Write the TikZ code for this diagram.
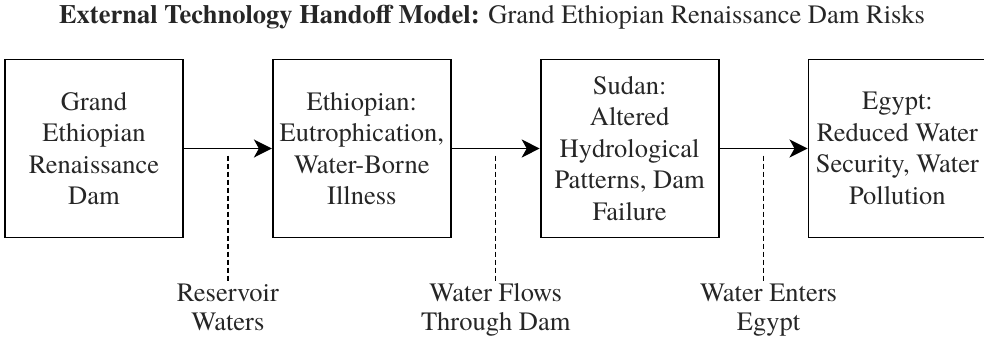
\documentclass[tikz,border=0pt]{standalone}
\usepackage{fontspec}
\setmainfont{texgyretermes}[Extension=.otf, UprightFont=*-regular, BoldFont=*-bold, ItalicFont=*-italic, BoldItalicFont=*-bolditalic]
\usetikzlibrary{arrows.meta, positioning}

\begin{document}
\begin{tikzpicture}[
  x=1pt, y=-1pt,
  node distance=88pt,
  box/.style={draw, line width=1.8pt, align=center, minimum width=178pt, minimum height=178pt, inner sep=2pt, text=black!85, font=\fontsize{26.5}{31.5}\selectfont},
  lbl/.style={align=center, inner sep=1pt, text=black!85, font=\fontsize{26.5}{29}\selectfont},
  flow/.style={-{Stealth[length=18pt, width=18pt, inset=5pt]}, line width=1.8pt},
  leader/.style={dash pattern=on 5pt off 3pt, line width=1.5pt}
]
\useasboundingbox (0,0) rectangle (984,337);

% title
\node[text=black!85, font=\fontsize{26.5}{31.5}\selectfont] (title) at (492,17) {\textbf{External Technology Handoff Model:} Grand Ethiopian Renaissance Dam Risks};

% stages
\node[box] (gerd) at (94,148.5) {Grand\\Ethiopian\\Renaissance\\Dam};
\node[box, right=of gerd] (ethiopia) {Ethiopian:\\Eutrophication,\\Water-Borne\\Illness};
\node[box, right=of ethiopia] (sudan) {Sudan:\\Altered\\Hydrological\\Patterns, Dam\\Failure};
\node[box, right=of sudan] (egypt) {Egypt:\\Reduced Water\\Security, Water\\Pollution};

\draw[flow] (gerd) -- (ethiopia);
\draw[flow] (ethiopia) -- (sudan);
\draw[flow] (sudan) -- (egypt);

% pathway labels
\path (gerd.east) -- (ethiopia.west) coordinate[pos=0.5, yshift=-7pt] (m1);
\path (ethiopia.east) -- (sudan.west) coordinate[pos=0.5, yshift=-7pt] (m2);
\path (sudan.east) -- (egypt.west) coordinate[pos=0.5, yshift=-7pt] (m3);

\node[lbl, below=127pt of m1] (reservoir) {Reservoir\\Waters};
\node[lbl, below=127pt of m2] (through) {Water Flows\\Through Dam};
\node[lbl, below=127pt of m3, xshift=5pt] (enters) {Water Enters\\Egypt};

\draw[leader] (m1) -- (reservoir.north);
\draw[leader] (m2) -- (through.north);
\draw[leader] (m3) -- (m3 |- enters.north);

\end{tikzpicture}
\end{document}
